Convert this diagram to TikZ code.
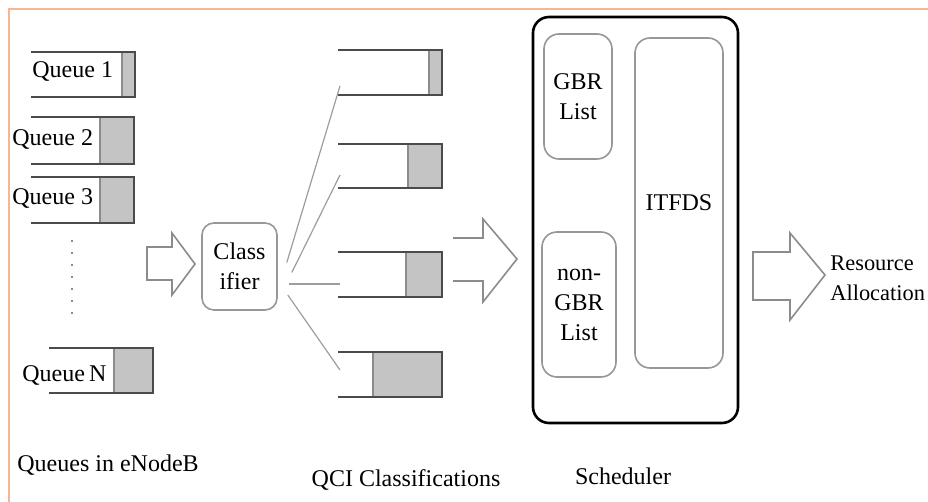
\documentclass[tikz,border=0pt]{standalone}
\usepackage{fontspec}
\setmainfont{Liberation Serif}
\usepackage{xcolor}
\usetikzlibrary{calc, positioning}

\definecolor{framec}{RGB}{250,180,145}
\definecolor{railc}{RGB}{75,75,75}
\definecolor{tailc}{RGB}{196,196,196}
\definecolor{edgec}{RGB}{140,140,140}

\begin{document}
\begin{tikzpicture}[x=0.5pt, y=-0.5pt,
    every node/.style={font=\fontsize{12}{15}\selectfont, inner sep=0pt},
    rail/.style={draw=railc, line width=1.1pt},
    tail/.style={fill=tailc, draw=edgec, line width=0.6pt},
    fan/.style={draw=edgec!85, line width=0.6pt},
    hollow/.style={draw=edgec, line width=0.8pt, fill=white, line join=miter},
    softbox/.style={draw=edgec!90, line width=0.8pt, rounded corners=7.5pt, align=center},
  ]
  \useasboundingbox (0,0) rectangle (928,502);
  % page frame (only top and left edges are on the page)
  \draw[framec, line width=1pt] (9,502) -- (9,9) -- (928,9);

  % queues in the eNodeB
  \foreach \n/\xl/\xg/\xr/\yt/\yb in {1/31/122/135/52/97, 2/31/100/134/117/164,
      3/31/100/134/177/223, N/49/114/153/348/393} {
    \filldraw[tail] (\xg,\yt) rectangle (\xr,\yb);
    \draw[rail] (\xl,\yt) -- (\xr,\yt) -- (\xr,\yb) -- (\xl,\yb);
  }
  \node[anchor=base west] (lq1) at (32,78) {Queue 1};
  \node[anchor=base west] (lq2) at (12,146) {Queue 2};
  \node[anchor=base west] (lq3) at (12,205) {Queue 3};
  \node[anchor=base west] (lqN) at (22,382) {Queue\,N};
  \draw[edgec, line width=0.6pt, dash pattern=on 1.2pt off 4.8pt] (72,240) -- (72,318);
  \node[anchor=base west] (enb) at (17,472) {Queues in eNodeB};

  % classifier
  \draw[hollow] (147,247) -- (172,247) -- (172,233) -- (195,264)
    -- (172,295) -- (172,280) -- (147,280) -- cycle;
  \node[softbox, rounded corners=6pt, minimum width=37.5pt, minimum height=43.5pt]
    (cls) at (239.5,266.5) {Class\\ifier};

  % QCI classification queues
  \foreach \n/\xg/\yt/\yb/\ye in {1/429/50/95/86, 2/408/144/188/175,
      3/406/252/297/284, 4/373/352/397/370} {
    \filldraw[tail] (\xg,\yt) rectangle (442,\yb);
    \draw[rail] (338,\yt) -- (442,\yt) -- (442,\yb) -- (338,\yb);
    \coordinate (qci\n) at (340,\ye);
  }
  \coordinate (fan1) at ($(cls.east)+(9,-4)$);
  \coordinate (fan2) at ($(cls.east)+(14,6)$);
  \coordinate (fan3) at ($(cls.east)+(11,17.5)$);
  \coordinate (fan4) at ($(cls.east)+(10,28.5)$);
  \foreach \n in {1,...,4}
    \draw[fan] (fan\n) -- (qci\n);
  \node[anchor=base] (qcl) at (406,487) {QCI Classifications};

  % scheduler
  \draw[hollow] (453,238) -- (483,238) -- (483,219) -- (517,259)
    -- (483,302) -- (483,281) -- (453,281);
  \node[draw, line width=1.3pt, rounded corners=8pt,
    minimum width=102.5pt, minimum height=203pt] (sched) at (635.5,220) {};
  \node[softbox, minimum width=34pt, minimum height=62.5pt] (gbr) at (578,96.5) {GBR\\List};
  \node[softbox, minimum width=37pt, minimum height=72.5pt] (ngbr) at (579,304.5) {non-\\GBR\\List};
  \node[softbox, minimum width=44pt, minimum height=165pt] (itfds) at (679,203) {ITFDS};
  \node[anchor=base] (schl) at (623,485) {Scheduler};

  % resource allocation
  \draw[hollow] (753,252) -- (790,252) -- (790,233) -- (825,275)
    -- (790,320) -- (790,300) -- (753,300) -- cycle;
  \node[anchor=west, align=left, font=\fontsize{11.2}{15}\selectfont]
    (res) at (830,278) {Resource\\Allocation};
\end{tikzpicture}
\end{document}
